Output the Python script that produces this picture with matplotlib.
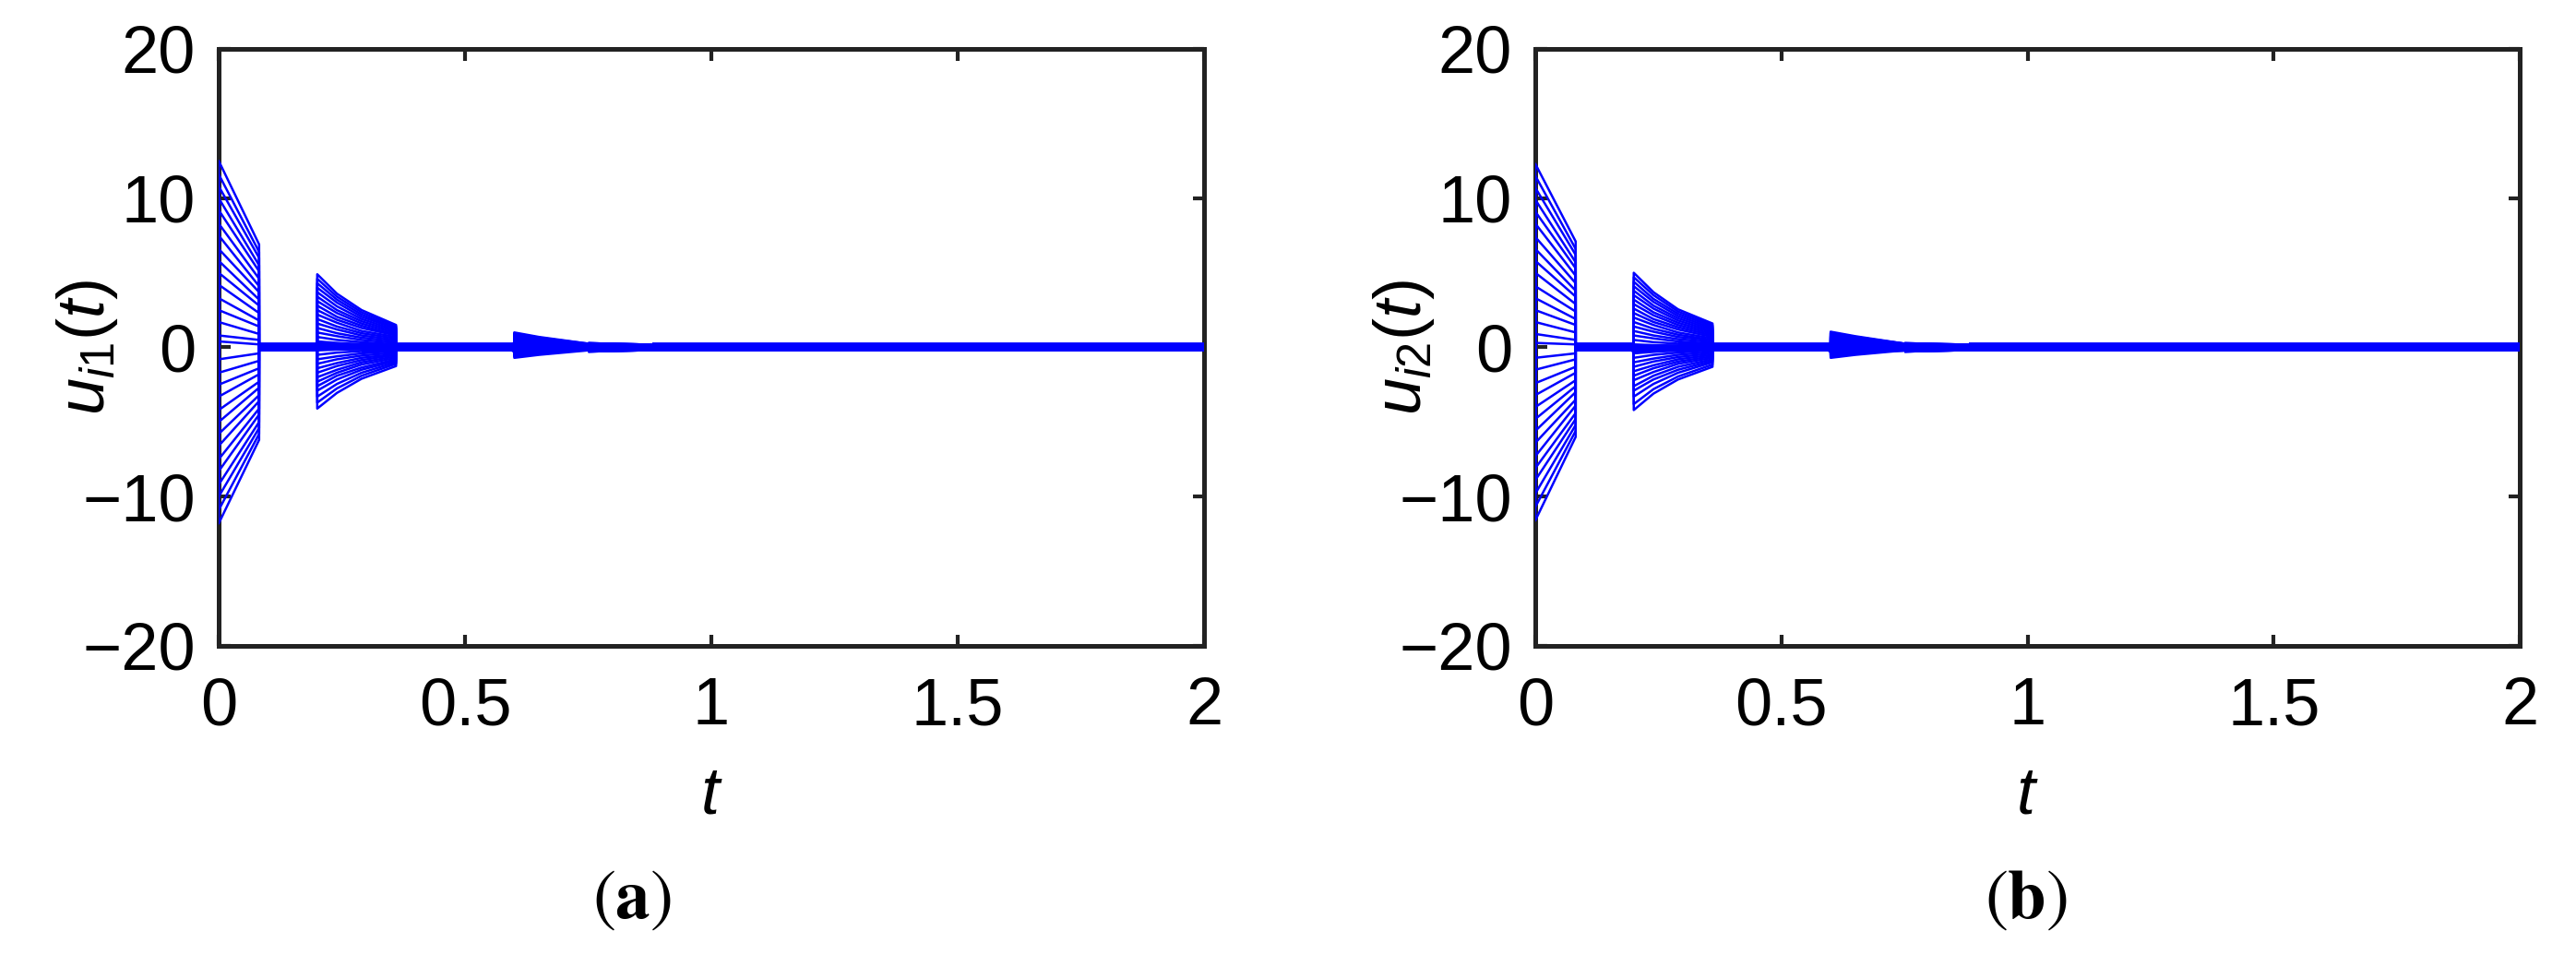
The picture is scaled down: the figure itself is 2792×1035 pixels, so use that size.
#!/usr/bin/env python3

import matplotlib

matplotlib.use("Agg")
import matplotlib.pyplot as plt
import numpy as np


# time knots of the three active control windows (control is zero elsewhere)
T_W1 = [0.0, 0.082]
T_W2 = [0.2, 0.24, 0.29, 0.36]
T_W3 = [0.6, 0.65, 0.75, 0.88]
T_FINAL = 2.0

X_TICKS = [0, 0.5, 1, 1.5, 2]
X_TICK_LABELS = ["0", "0.5", "1", "1.5", "2"]
Y_TICKS = [-20, -10, 0, 10, 20]

# panel (a): u_i1(t), one entry per agent
A_W1_START = [12.5, 11.6, 10.8, 10.0, 9.2, 8.3, 7.5, 6.6, 5.8, 5.0, 4.2, 3.3, 2.5, 1.7, 0.8,
              0.4, -0.8, -1.7, -2.5, -3.3, -4.2, -5.0, -5.8, -6.6, -7.5, -8.3, -9.2, -10.0, -10.9, -11.8]
A_W1_END = [6.9, 6.4, 6.0, 5.5, 5.1, 4.6, 4.1, 3.7, 3.2, 2.8, 2.3, 1.8, 1.4, 0.9, 0.5,
            0.2, -0.4, -0.9, -1.4, -1.8, -2.3, -2.7, -3.2, -3.6, -4.1, -4.5, -5.0, -5.4, -5.8, -6.2]
A_W2_START = [4.9, 4.6, 4.3, 4.0, 3.7, 3.4, 3.1, 2.8, 2.5, 2.2, 1.9, 1.6, 1.3, 1.0, 0.7,
              0.4, 0.1, -0.2, -0.5, -0.8, -1.1, -1.4, -1.7, -2.0, -2.3, -2.6, -2.9, -3.3, -3.7, -4.1]
A_W2_Q1 = [3.6, 3.4, 3.2, 3.0, 2.75, 2.5, 2.3, 2.05, 1.85, 1.65, 1.4, 1.2, 0.95, 0.75, 0.5,
           0.3, 0.05, -0.15, -0.35, -0.6, -0.8, -1.05, -1.25, -1.5, -1.7, -1.9, -2.15, -2.45, -2.75, -3.05]
A_W2_Q2 = [2.5, 2.35, 2.2, 2.05, 1.9, 1.75, 1.6, 1.45, 1.3, 1.1, 0.95, 0.8, 0.65, 0.5, 0.35,
           0.2, 0.05, -0.1, -0.25, -0.4, -0.55, -0.7, -0.85, -1.0, -1.15, -1.35, -1.5, -1.7, -1.9, -2.1]
A_W2_END = [1.5, 1.4, 1.3, 1.25, 1.15, 1.05, 0.95, 0.85, 0.8, 0.7, 0.6, 0.5, 0.4, 0.3, 0.2,
            0.1, 0.02, -0.05, -0.15, -0.25, -0.35, -0.45, -0.5, -0.6, -0.7, -0.8, -0.9, -1.0, -1.1, -1.25]
A_W3_START = [1.0, 0.95, 0.9, 0.85, 0.8, 0.75, 0.7, 0.65, 0.6, 0.5, 0.45, 0.4, 0.3, 0.25, 0.2,
              0.1, 0.05, 0.02, -0.05, -0.1, -0.2, -0.25, -0.3, -0.35, -0.4, -0.45, -0.5, -0.55, -0.6, -0.7]
A_W3_Q1 = [0.7, 0.65, 0.6, 0.6, 0.55, 0.5, 0.5, 0.45, 0.4, 0.35, 0.3, 0.3, 0.2, 0.2, 0.15,
           0.05, 0.05, 0.01, -0.05, -0.05, -0.15, -0.15, -0.2, -0.25, -0.3, -0.3, -0.35, -0.4, -0.4, -0.5]
A_W3_Q2 = [0.25, 0.25, 0.2, 0.2, 0.2, 0.2, 0.15, 0.15, 0.15, 0.1, 0.1, 0.1, 0.1, 0.05, 0.05,
           0.02, 0.01, 0.01, -0.01, -0.02, -0.05, -0.05, -0.05, -0.1, -0.1, -0.1, -0.1, -0.15, -0.15, -0.2]

# panel (b): u_i2(t)
B_W1_START = [12.3, 11.5, 10.7, 9.9, 9.1, 8.3, 7.4, 6.6, 5.8, 5.0, 4.1, 3.3, 2.5, 1.7, 0.9,
              0.3, -0.7, -1.5, -2.4, -3.2, -4.0, -4.8, -5.6, -6.4, -7.3, -8.1, -8.9, -9.8, -10.7, -11.6]
B_W1_END = [7.1, 6.6, 6.2, 5.7, 5.3, 4.8, 4.3, 3.8, 3.4, 2.9, 2.4, 1.9, 1.5, 1.0, 0.5,
            0.2, -0.4, -0.8, -1.3, -1.7, -2.2, -2.6, -3.0, -3.5, -3.9, -4.4, -4.8, -5.2, -5.6, -6.0]
B_W2_START = [5.0, 4.7, 4.4, 4.1, 3.8, 3.5, 3.2, 2.9, 2.6, 2.3, 2.0, 1.7, 1.4, 1.1, 0.8,
              0.5, 0.2, -0.1, -0.4, -0.7, -1.0, -1.3, -1.6, -1.9, -2.2, -2.6, -2.9, -3.3, -3.8, -4.2]
B_W2_Q1 = [3.7, 3.5, 3.25, 3.05, 2.8, 2.6, 2.35, 2.15, 1.9, 1.7, 1.5, 1.25, 1.05, 0.8, 0.6,
           0.35, 0.15, -0.05, -0.3, -0.5, -0.75, -0.95, -1.2, -1.4, -1.65, -1.9, -2.15, -2.45, -2.8, -3.1]
B_W2_Q2 = [2.55, 2.4, 2.25, 2.1, 1.95, 1.8, 1.65, 1.5, 1.35, 1.2, 1.0, 0.85, 0.7, 0.55, 0.4,
           0.25, 0.1, -0.05, -0.2, -0.35, -0.5, -0.65, -0.8, -0.95, -1.1, -1.3, -1.5, -1.7, -1.95, -2.15]
B_W2_END = [1.6, 1.5, 1.4, 1.3, 1.2, 1.1, 1.0, 0.9, 0.8, 0.7, 0.6, 0.5, 0.45, 0.35, 0.25,
            0.15, 0.05, -0.02, -0.1, -0.2, -0.3, -0.4, -0.5, -0.6, -0.7, -0.8, -0.9, -1.0, -1.15, -1.3]
B_W3_START = [1.05, 1.0, 0.95, 0.9, 0.8, 0.75, 0.7, 0.65, 0.6, 0.55, 0.45, 0.4, 0.35, 0.25, 0.2,
              0.15, 0.05, 0.02, -0.05, -0.1, -0.15, -0.2, -0.3, -0.35, -0.4, -0.45, -0.5, -0.55, -0.65, -0.7]
B_W3_Q1 = [0.75, 0.7, 0.65, 0.6, 0.55, 0.5, 0.5, 0.45, 0.4, 0.4, 0.3, 0.3, 0.25, 0.2, 0.15,
           0.1, 0.05, 0.01, -0.05, -0.05, -0.1, -0.15, -0.2, -0.25, -0.3, -0.3, -0.35, -0.4, -0.45, -0.5]
B_W3_Q2 = [0.25, 0.25, 0.25, 0.2, 0.2, 0.2, 0.15, 0.15, 0.15, 0.15, 0.1, 0.1, 0.1, 0.05, 0.05,
           0.05, 0.01, 0.01, -0.01, -0.02, -0.05, -0.05, -0.05, -0.1, -0.1, -0.1, -0.1, -0.15, -0.15, -0.2]

LINE_COLOR = "#0000FF"
AXIS_COLOR = "#222222"
FONT_SIZE = 52
NEAR_ZERO = 0.12  # traces this close to zero pile up into the thick band


def agent_series(w1, w2, w3):
    # the control is switched off between windows, so the trace jumps to zero
    t = ([T_W1[0]] + T_W1 + [T_W1[-1]]
         + [T_W2[0]] + T_W2 + [T_W2[-1]]
         + [T_W3[0]] + T_W3 + [T_FINAL])
    u = [0.0] + list(w1) + [0.0] + [0.0] + list(w2) + [0.0] + [0.0] + list(w3) + [0.0]
    return np.array(t), np.array(u)


def draw_panel(ax, w1_cols, w2_cols, w3_cols, ylabel):
    n_agents = len(w1_cols[0])
    for k in range(n_agents):
        w1 = [col[k] for col in w1_cols]
        w2 = [col[k] for col in w2_cols]
        w3 = [col[k] for col in w3_cols] + [0.0]
        t, u = agent_series(w1, w2, w3)
        ax.plot(t, u, color=LINE_COLOR, linewidth=1.8, zorder=3)
        band = np.where(np.abs(u) <= NEAR_ZERO, u, np.nan)
        band[0] = np.nan
        ax.plot(t, band, color=LINE_COLOR, linewidth=6, zorder=3, solid_capstyle="butt")

    ax.set_xlim(0, 2)
    ax.set_ylim(-20, 20)
    ax.set_xticks(X_TICKS, X_TICK_LABELS)
    ax.set_yticks(Y_TICKS)
    ax.tick_params(axis="both", direction="in", top=True, right=True, length=9,
                   width=3, color=AXIS_COLOR, labelsize=FONT_SIZE, labelcolor="black")
    ax.tick_params(axis="x", pad=24)
    ax.tick_params(axis="y", pad=18)
    for spine in ax.spines.values():
        spine.set_linewidth(3.6)
        spine.set_color(AXIS_COLOR)
    ax.set_xlabel(r"$t$", fontsize=FONT_SIZE)
    ax.xaxis.set_label_coords(0.5, -0.2)
    ax.set_ylabel(ylabel, fontsize=FONT_SIZE)
    ax.yaxis.set_label_coords(-0.1, 0.5)


def main() -> None:
    plt.rcParams["font.family"] = ["Liberation Sans", "DejaVu Sans"]
    plt.rcParams["mathtext.fontset"] = "custom"
    plt.rcParams["mathtext.rm"] = "Liberation Sans"
    plt.rcParams["mathtext.it"] = "Liberation Sans:italic"
    plt.rcParams["mathtext.bf"] = "Liberation Sans:bold"

    fig = plt.figure(figsize=(27.92, 10.35), dpi=100, facecolor="white")
    ax_a = fig.add_axes((0.0849, 0.3237, 0.3825, 0.6251))
    ax_b = fig.add_axes((0.5960, 0.3237, 0.3822, 0.6251))

    draw_panel(ax_a, [A_W1_START, A_W1_END], [A_W2_START, A_W2_Q1, A_W2_Q2, A_W2_END],
               [A_W3_START, A_W3_Q1, A_W3_Q2], r"$u_{i1}(t)$")
    draw_panel(ax_b, [B_W1_START, B_W1_END], [B_W2_START, B_W2_Q1, B_W2_Q2, B_W2_END],
               [B_W3_START, B_W3_Q1, B_W3_Q2], r"$u_{i2}(t)$")

    fig.text(685 / 2792, 1 - 975 / 1035, r"$(\mathbf{a})$", fontsize=54,
             ha="center", va="center", math_fontfamily="stix")
    fig.text(2196 / 2792, 1 - 975 / 1035, r"$(\mathbf{b})$", fontsize=54,
             ha="center", va="center", math_fontfamily="stix")

    fig.savefig("out.png", dpi=100, facecolor="white")
    plt.close(fig)


if __name__ == "__main__":
    main()
